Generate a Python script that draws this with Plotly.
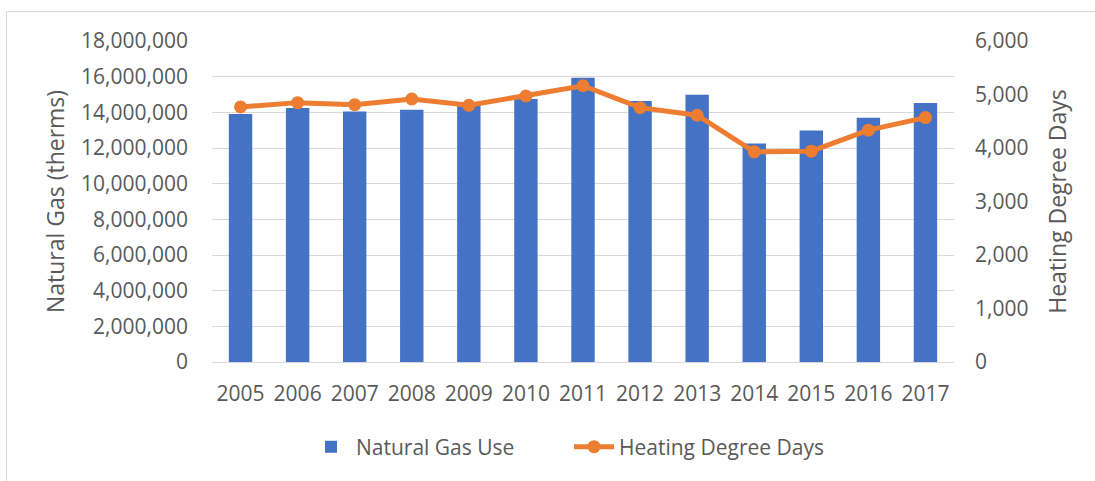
import plotly.graph_objects as go

years = ["2005", "2006", "2007", "2008", "2009", "2010", "2011", "2012", "2013", "2014", "2015", "2016", "2017"]
gas_use = [13910000, 14250000, 14040000, 14150000, 14510000, 14750000, 15940000,
           14640000, 14990000, 12250000, 12980000, 13690000, 14530000]
degree_days = [4767, 4848, 4810, 4916, 4798, 4972, 5164, 4754, 4612, 3929, 3940, 4333, 4568]

FONT = "Open Sans"
TXT = "#595959"
GRID = "#D9D9D9"
FS = 21

fig = go.Figure()
fig.add_trace(go.Bar(
    x=years, y=gas_use, name="Natural Gas Use",
    marker=dict(color="#4472C4", line=dict(width=0)),
    yaxis="y",
))
fig.add_trace(go.Scatter(
    x=years, y=degree_days, name="Heating Degree Days",
    mode="lines+markers",
    line=dict(color="#ED7D31", width=5),
    marker=dict(color="#ED7D31", size=13),
    yaxis="y2",
))

W, H = 1095, 481
L, R, T, B = 212, 141, 41, 119
pw = W - L - R
ph = H - T - B

fig.update_layout(
    width=W, height=H,
    margin=dict(l=L, r=R, t=T, b=B, autoexpand=False),
    paper_bgcolor="white", plot_bgcolor="white",
    font=dict(family=FONT, size=FS, color=TXT),
    bargap=0.59,
    showlegend=True,
    legend=dict(
        orientation="h", x=(306 - L) / pw, xanchor="left",
        y=-(447 - (T + ph)) / ph, yanchor="middle",
        font=dict(family=FONT, size=FS, color=TXT),
        entrywidth=208, entrywidthmode="pixels",
        itemwidth=40, traceorder="normal",
    ),
    xaxis=dict(
        type="category", range=[-0.5, len(years) - 0.5],
        showgrid=False, showline=True, linecolor=GRID, linewidth=1,
        ticks="", ticklabelstandoff=13, tickfont=dict(size=FS, color=TXT),
    ),
    yaxis=dict(
        range=[0, 18000000], dtick=2000000, tickformat=",",
        showgrid=True, gridcolor=GRID, gridwidth=1, zeroline=False,
        ticks="", ticklabelstandoff=23, showline=False,
        tickfont=dict(size=FS, color=TXT),
        title=dict(text="Natural Gas (therms)", standoff=10, font=dict(size=23, color=TXT)),
    ),
    yaxis2=dict(
        range=[0, 6000], dtick=1000, tickformat=",",
        overlaying="y", side="right", showgrid=False, zeroline=False,
        ticks="", ticklabelstandoff=20, showline=False,
        tickfont=dict(size=FS, color=TXT),
        title=dict(text="Heating Degree Days", standoff=22, font=dict(size=23, color=TXT)),
    ),
    shapes=[dict(
        type="rect", xref="paper", yref="paper",
        x0=(6.5 - L) / pw, x1=(W + 20 - L) / pw,
        y0=-(H + 20 - (T + ph)) / ph, y1=1 + (T - 11.5) / ph,
        line=dict(color=GRID, width=1), fillcolor="rgba(0,0,0,0)", layer="below",
    )],
)

fig.write_html("out.html", config={"displayModeBar": False},
               post_script="document.body.style.margin='0';")
